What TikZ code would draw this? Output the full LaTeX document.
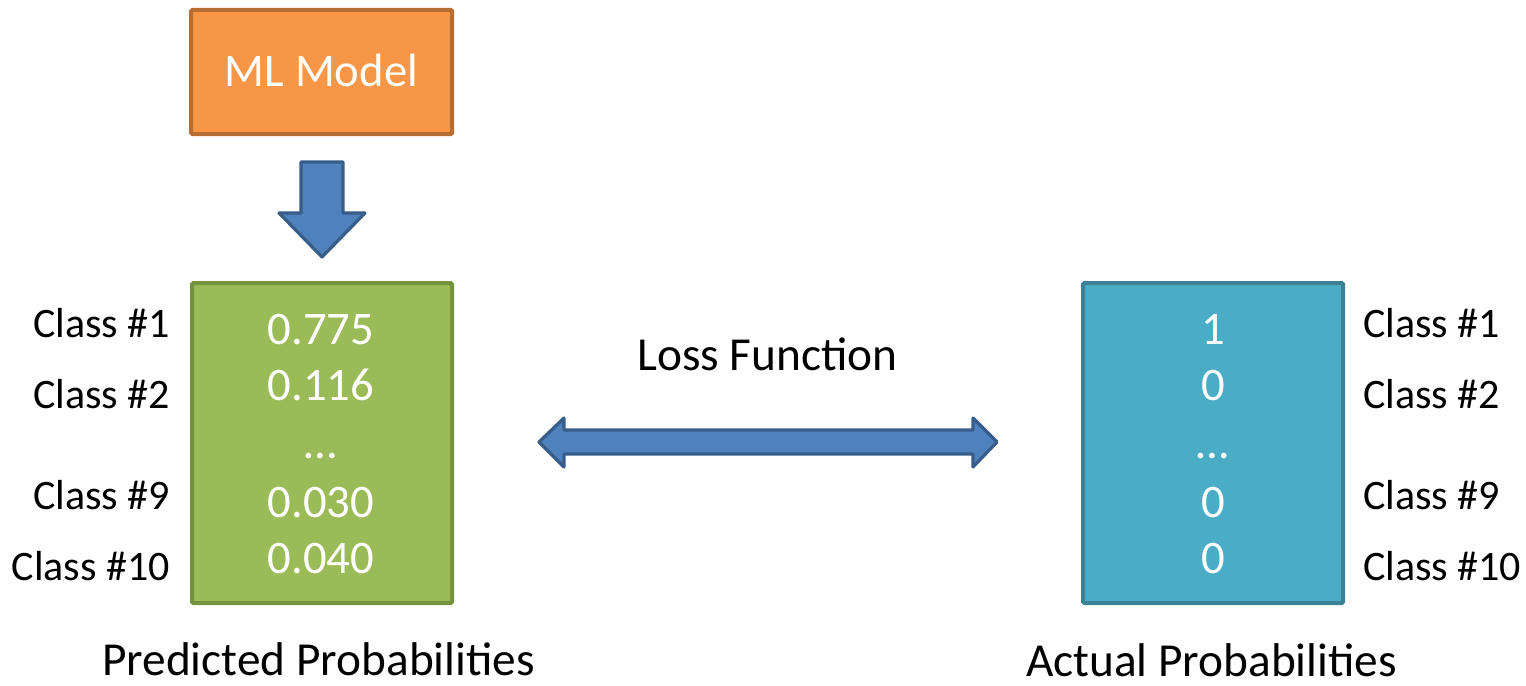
\documentclass[tikz,border=0pt]{standalone}
\usepackage{fontspec}
\setmainfont{Carlito}
\definecolor{modelfill}{HTML}{F79646}
\definecolor{modeledge}{HTML}{B66D31}
\definecolor{predfill}{HTML}{9BBB59}
\definecolor{prededge}{HTML}{76923C}
\definecolor{actfill}{HTML}{4BACC6}
\definecolor{actedge}{HTML}{3A8196}
\definecolor{arrowfill}{HTML}{4F81BD}
\definecolor{arrowedge}{HTML}{385D8A}
\begin{document}
\begin{tikzpicture}[x=0.75pt,y=-0.75pt,
  panel/.style={line width=3pt,rounded corners=1pt},
  fatarrow/.style={fill=arrowfill,draw=arrowedge,line width=2.4pt,line join=round},
  boxtext/.style={text=white,font=\fontsize{35}{40}\selectfont,anchor=base,inner sep=0pt},
  classtext/.style={font=\fontsize{31.5}{36}\selectfont,inner sep=0pt},
  captext/.style={font=\fontsize{35.5}{40}\selectfont,anchor=base,inner sep=0pt}]
\useasboundingbox (0,0) rectangle (1526,685);

% model block
\draw[panel,fill=modelfill,draw=modeledge] (191,10) rectangle (452,134);
\node[boxtext] (model) at (321.5,86) {ML Model};

% arrow from model to predictions
\draw[fatarrow] (301,162) -- (343,162) -- (343,213) -- (365,213) -- (322,257)
  -- (279,213) -- (301,213) -- cycle;

% predicted probabilities panel
\draw[panel,fill=predfill,draw=prededge] (192,283) rectangle (452,603);
\node[boxtext] (p1) at (321,344) {0.775};
\node[boxtext] (p2) at (321,400) {0.116};
\node[boxtext] (pd) at (321,458) {\dots};
\node[boxtext] (p9) at (321,517) {0.030};
\node[boxtext] (p10) at (321,573) {0.040};

% actual probabilities panel
\draw[panel,fill=actfill,draw=actedge] (1083,283) rectangle (1343,603);
\node[boxtext] (a1) at (1213,344) {1};
\node[boxtext] (a2) at (1213,400) {0};
\node[boxtext] (ad) at (1213,458) {\dots};
\node[boxtext] (a9) at (1213,517) {0};
\node[boxtext] (a10) at (1213,573) {0};

% class labels, left side
\node[classtext,anchor=base east] (lc1) at (170,337) {Class \#1};
\node[classtext,anchor=base east] (lc2) at (170,408) {Class \#2};
\node[classtext,anchor=base east] (lc9) at (170,509) {Class \#9};
\node[classtext,anchor=base east] (lc10) at (170,580) {Class \#10};

% class labels, right side
\node[classtext,anchor=base west] (rc1) at (1363,337) {Class \#1};
\node[classtext,anchor=base west] (rc2) at (1363,408) {Class \#2};
\node[classtext,anchor=base west] (rc9) at (1363,509) {Class \#9};
\node[classtext,anchor=base west] (rc10) at (1363,580) {Class \#10};

% loss function link between the two panels
\node[captext] (loss) at (767.5,370) {Loss Function};
\draw[fatarrow] (539,442) -- (564,418) -- (564,430) -- (973,430) -- (973,418)
  -- (997,442) -- (973,467) -- (973,454) -- (564,454) -- (564,467) -- cycle;

% captions
\node[captext] (predcap) at (318.5,675) {Predicted Probabilities};
\node[captext] (actcap) at (1211.5,676) {Actual Probabilities};
\end{tikzpicture}
\end{document}
